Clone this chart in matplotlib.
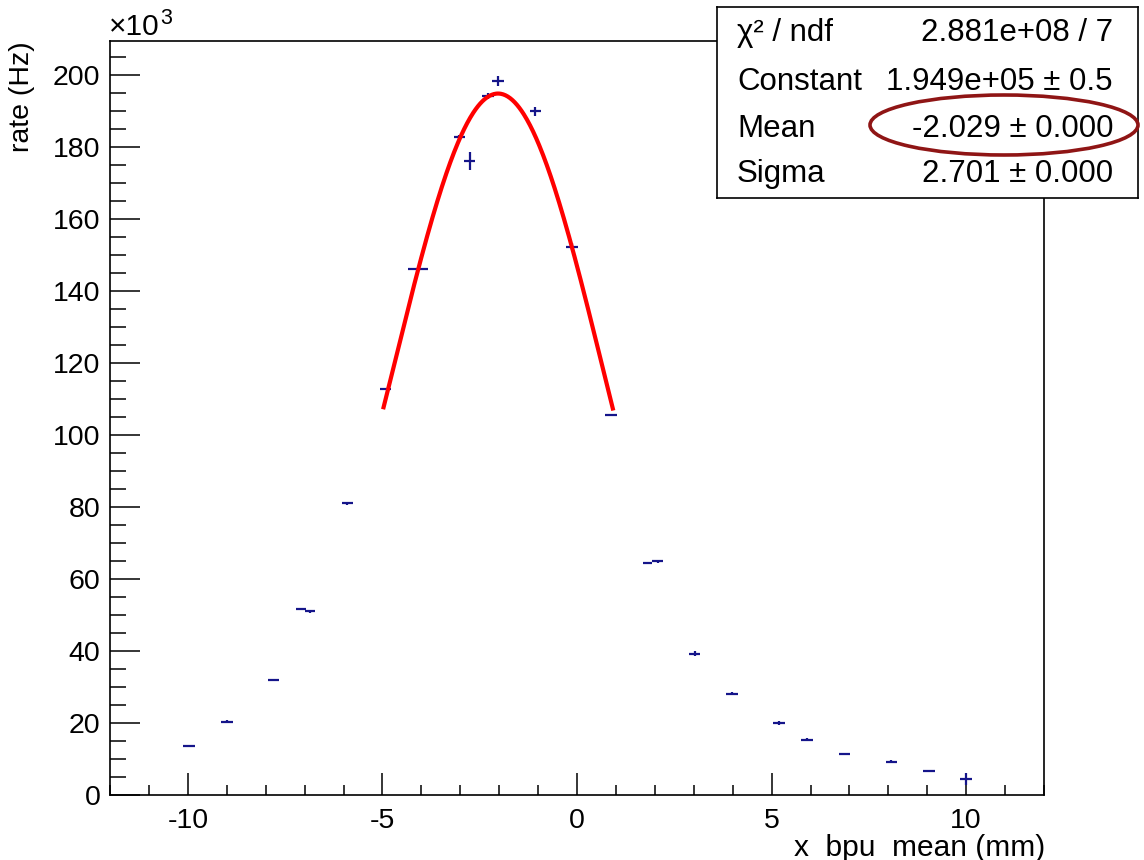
import numpy as np
import matplotlib
matplotlib.use("Agg")
import matplotlib.pyplot as plt
from matplotlib.patches import Ellipse
from matplotlib.ticker import MultipleLocator

plt.rcParams['font.family'] = ['Liberation Sans', 'DejaVu Sans']
plt.rcParams['axes.unicode_minus'] = False

# ---- data (rate in units of 10^3 Hz) ----
x_mean = [-9.97, -9.0, -7.8, -7.1, -6.86, -5.9, -4.92, -4.09, -3.02, -2.76, -2.29,
          -2.03, -1.07, -0.12, 0.87, 1.82, 2.07, 3.02, 3.99, 5.19, 5.91, 6.87,
          8.08, 9.04, 10.0]
rate_k = [13.7, 20.4, 32.0, 51.6, 51.0, 81.0, 112.8, 146.1, 182.7, 176.1, 194.2,
          198.3, 190.0, 152.3, 105.6, 64.4, 64.9, 39.3, 28.2, 20.0, 15.4, 11.5,
          9.3, 6.6, 4.4]
x_err = [0.15, 0.15, 0.15, 0.13, 0.13, 0.15, 0.15, 0.26, 0.15, 0.15, 0.15,
         0.15, 0.15, 0.15, 0.15, 0.12, 0.13, 0.15, 0.15, 0.15, 0.15, 0.15,
         0.15, 0.15, 0.15]
rate_err_k = [0.3, 0.3, 0.3, 0.3, 0.3, 0.3, 0.4, 0.4, 0.8, 2.5, 0.8,
              1.4, 1.3, 1.0, 0.4, 0.3, 0.3, 0.6, 0.3, 0.6, 0.3, 0.3,
              0.3, 0.3, 1.6]

# Gaussian fit parameters (from stats box)
fit_const = 1.949e5
fit_mean = -2.029
fit_sigma = 2.701
fit_range = [-4.97, 0.92]

stats_labels = ["χ² / ndf", "Constant", "Mean", "Sigma"]
stats_values = ["2.881e+08 / 7", "1.949e+05 ± 0.5", "-2.029 ± 0.000", "2.701 ± 0.000"]

W, H = 1144, 860
fig = plt.figure(figsize=(W / 100, H / 100), dpi=100)
ax = fig.add_axes([110 / W, 1 - 795 / H, (1044 - 110) / W, (795 - 41) / H])

ax.errorbar(x_mean, rate_k, xerr=x_err, yerr=rate_err_k, fmt='none',
            ecolor='#15158a', elinewidth=1.6, capsize=0, zorder=3)

xf = np.linspace(fit_range[0], fit_range[1], 300)
yf = fit_const * np.exp(-0.5 * ((xf - fit_mean) / fit_sigma) ** 2) / 1e3
ax.plot(xf, yf, color='#ff0000', lw=3.0, zorder=4)

ax.set_xlim(-12, 12)
ax.set_ylim(0, 209.5)
ax.xaxis.set_major_locator(MultipleLocator(5))
ax.xaxis.set_minor_locator(MultipleLocator(1))
ax.yaxis.set_major_locator(MultipleLocator(20))
ax.yaxis.set_minor_locator(MultipleLocator(5))
ax.tick_params(axis='both', which='both', direction='in', top=False, right=False,
               width=1.1, labelsize=20.5, colors='black')
ax.tick_params(axis='x', which='major', length=16, pad=9)
ax.tick_params(axis='x', which='minor', length=7.5)
ax.tick_params(axis='y', which='major', length=21.5, pad=7)
ax.tick_params(axis='y', which='minor', length=11.5)
for s in ax.spines.values():
    s.set_linewidth(1.2)

# axis titles (ROOT style, right/top aligned)
fig.text(1045 / W, 1 - 856 / H, "x  bpu  mean (mm)", ha='right', va='baseline',
         fontsize=21.5)
fig.text(22 / W, 1 - 41 / H, "rate (Hz)", rotation=90, ha='center', va='top',
         fontsize=20.5)

# x10^3 exponent label
fig.text(109 / W, 1 - 35 / H, "×10", ha='left', va='baseline', fontsize=21.5)
fig.text(160 / W, 1 - 24 / H, "3", ha='left', va='baseline', fontsize=15.5)

# stats box
sb = fig.add_axes([717 / W, 1 - 197.7 / H, (1137.5 - 717) / W, (197.7 - 6.7) / H])
sb.set_facecolor('white')
sb.set_xticks([])
sb.set_yticks([])
for s in sb.spines.values():
    s.set_linewidth(1.2)
sb.set_zorder(5)
baselines = [41, 90, 137, 182]
for lab, val, b in zip(stats_labels, stats_values, baselines):
    fig.text(737 / W, 1 - b / H, lab, ha='left', va='baseline', fontsize=22.5, zorder=6)
    fig.text(1113 / W, 1 - b / H, val, ha='right', va='baseline', fontsize=22.5, zorder=6)

ell = Ellipse((1004 / 100, (H - 125) / 100), 2.68, 0.60,
              transform=fig.dpi_scale_trans, fill=False,
              edgecolor='#8f1515', linewidth=2.6, zorder=10)
fig.add_artist(ell)

fig.savefig("out.png", dpi=100)
